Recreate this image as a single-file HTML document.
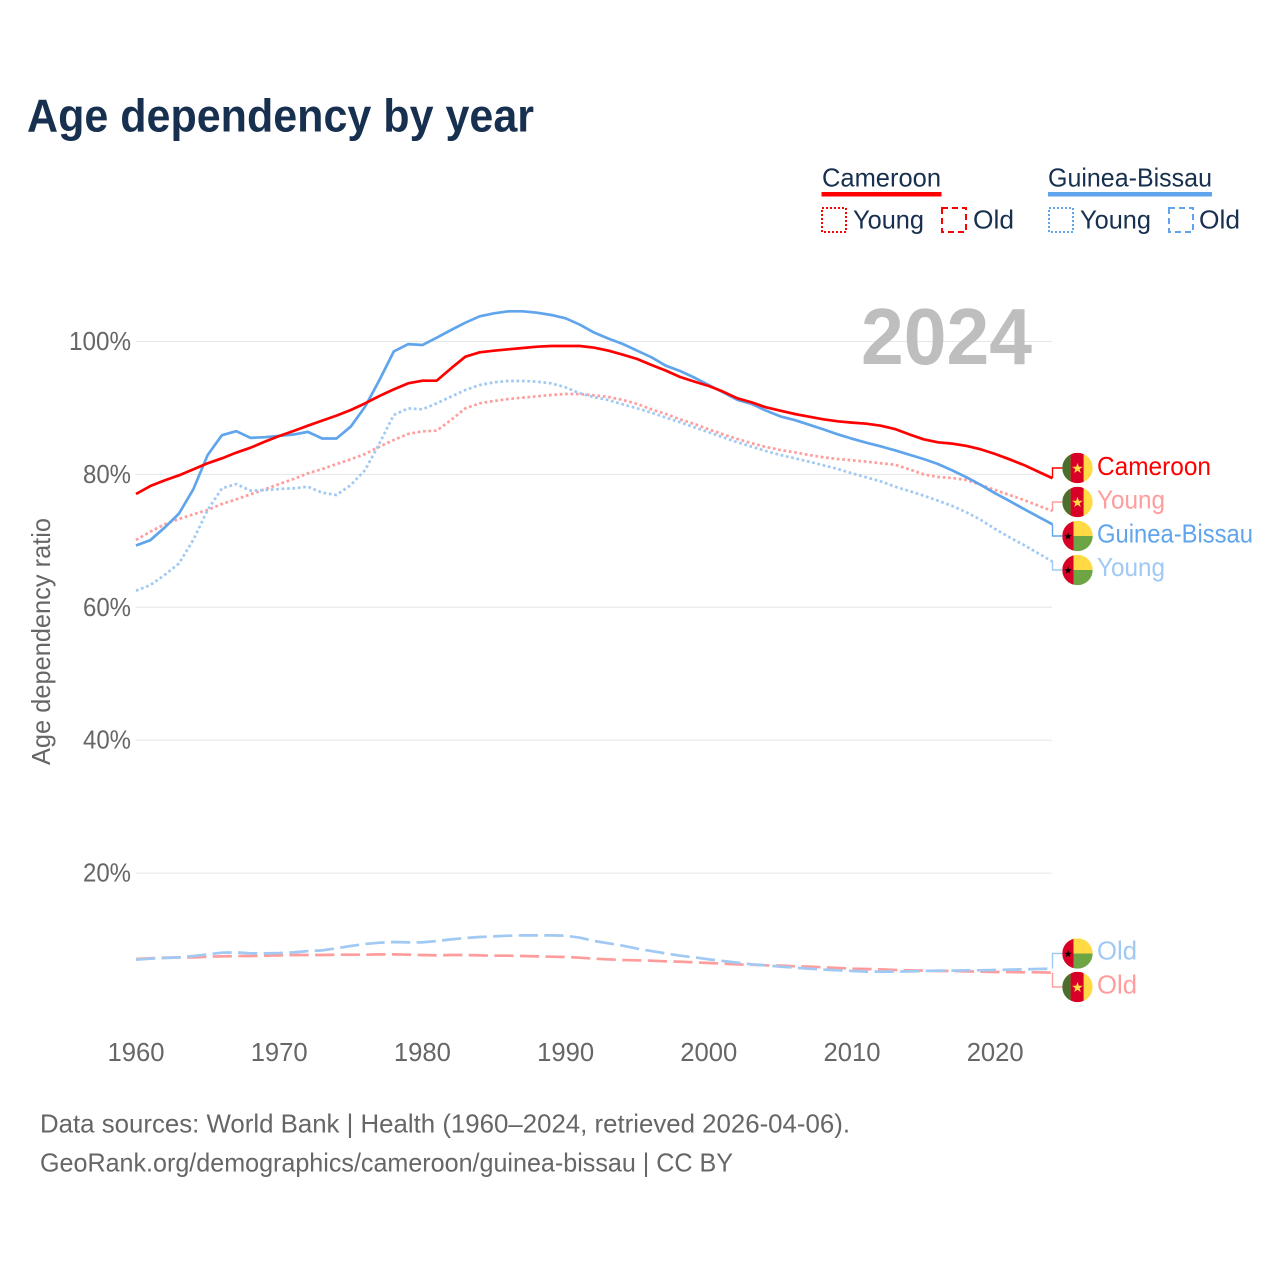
<!DOCTYPE html>
<html lang="en">
<head>
<meta charset="utf-8">
<title>Age dependency by year</title>
<style>
  html, body { margin: 0; padding: 0; background: #ffffff; }
  svg { display: block; font-family: "Liberation Sans", sans-serif; }
</style>
</head>
<body>
<svg id="chart" xmlns="http://www.w3.org/2000/svg" width="1280" height="1280" viewBox="0 0 1280 1280">
  <rect x="0" y="0" width="1280" height="1280" fill="#ffffff"/>
  <text x="27" y="131.5" font-size="46" font-weight="700" fill="#17304f" textLength="507" lengthAdjust="spacingAndGlyphs">Age dependency by year</text>

  <g>
    <text x="822" y="186.5" font-size="26" fill="#17304f" textLength="119" lengthAdjust="spacingAndGlyphs">Cameroon</text>
    <rect x="821.5" y="192" width="120" height="4.5" fill="#ff0000"/>
    <rect x="822" y="208" width="24" height="24" fill="none" stroke="#ff0000" stroke-width="2" stroke-dasharray="2 2"/>
    <text x="853" y="228.5" font-size="26" fill="#17304f" textLength="71" lengthAdjust="spacingAndGlyphs">Young</text>
    <rect x="942" y="208" width="24" height="24" fill="none" stroke="#ff0000" stroke-width="2" stroke-dasharray="6 4"/>
    <text x="973" y="228.5" font-size="26" fill="#17304f" textLength="41" lengthAdjust="spacingAndGlyphs">Old</text>

    <text x="1048" y="186.5" font-size="26" fill="#17304f" textLength="164" lengthAdjust="spacingAndGlyphs">Guinea-Bissau</text>
    <rect x="1048" y="192" width="164" height="4.5" fill="#60a5ec"/>
    <rect x="1049" y="208" width="24" height="24" fill="none" stroke="#60a5ec" stroke-width="2" stroke-dasharray="2 2"/>
    <text x="1080" y="228.5" font-size="26" fill="#17304f" textLength="71" lengthAdjust="spacingAndGlyphs">Young</text>
    <rect x="1169" y="208" width="24" height="24" fill="none" stroke="#60a5ec" stroke-width="2" stroke-dasharray="6 4"/>
    <text x="1199" y="228.5" font-size="26" fill="#17304f" textLength="41" lengthAdjust="spacingAndGlyphs">Old</text>
  </g>

  <g id="grid"></g>
  <g id="y-ticks"></g>
  <g id="x-ticks"></g>

  <text x="861" y="364" font-size="80" font-weight="700" fill="#bebebe" textLength="171" lengthAdjust="spacingAndGlyphs">2024</text>
  <text transform="translate(50 765) rotate(-90)" x="0" y="0" font-size="26" fill="#666666" textLength="247" lengthAdjust="spacingAndGlyphs">Age dependency ratio</text>

  <g id="series"></g>
  <g id="end-labels"></g>

  <text x="40" y="1132.5" font-size="26" fill="#666666" textLength="810" lengthAdjust="spacingAndGlyphs">Data sources: World Bank | Health (1960–2024, retrieved 2026-04-06).</text>
  <text x="40" y="1171.5" font-size="26" fill="#666666" textLength="693" lengthAdjust="spacingAndGlyphs">GeoRank.org/demographics/cameroon/guinea-bissau | CC BY</text>
</svg>

<script>
const years = [
  1960,1961,1962,1963,1964,1965,1966,1967,1968,1969,
  1970,1971,1972,1973,1974,1975,1976,1977,1978,1979,
  1980,1981,1982,1983,1984,1985,1986,1987,1988,1989,
  1990,1991,1992,1993,1994,1995,1996,1997,1998,1999,
  2000,2001,2002,2003,2004,2005,2006,2007,2008,2009,
  2010,2011,2012,2013,2014,2015,2016,2017,2018,2019,
  2020,2021,2022,2023,2024
];
const cameroonTotal = [
  77.05,78.25,79.1,79.86,80.76,81.67,82.42,83.27,84.02,84.93,
  85.78,86.53,87.33,88.09,88.84,89.69,90.69,91.8,92.8,93.7,
  94.1,94.11,95.96,97.72,98.37,98.62,98.82,99.02,99.22,99.32,
  99.32,99.32,99.07,98.62,98.02,97.37,96.46,95.61,94.66,93.96,
  93.3,92.45,91.45,90.84,90.09,89.59,89.09,88.69,88.29,87.99,
  87.79,87.63,87.33,86.83,86.03,85.28,84.83,84.63,84.28,83.77,
  83.07,82.27,81.42,80.42,79.42
];
const cameroonYoung = [
  70.13,71.38,72.49,73.29,73.99,74.64,75.55,76.25,77.0,77.75,
  78.55,79.31,80.16,80.81,81.56,82.27,83.07,84.17,85.18,86.08,
  86.48,86.58,88.19,89.94,90.7,91.05,91.35,91.55,91.75,91.95,
  92.1,92.1,91.9,91.65,91.2,90.6,89.79,89.09,88.29,87.58,
  86.78,86.03,85.33,84.68,84.12,83.67,83.32,82.92,82.57,82.32,
  82.12,81.92,81.67,81.47,80.76,80.01,79.61,79.46,79.16,78.41,
  77.65,76.9,76.15,75.3,74.49
];
const cameroonOld = [
  7.07,7.17,7.27,7.32,7.32,7.42,7.47,7.52,7.52,7.57,
  7.62,7.67,7.67,7.67,7.72,7.72,7.72,7.77,7.77,7.72,
  7.67,7.62,7.67,7.67,7.62,7.57,7.57,7.52,7.47,7.42,
  7.37,7.27,7.12,7.02,6.92,6.87,6.82,6.72,6.67,6.57,
  6.47,6.37,6.27,6.22,6.12,6.07,5.97,5.92,5.82,5.72,
  5.62,5.57,5.52,5.42,5.37,5.32,5.27,5.27,5.21,5.17,
  5.12,5.12,5.07,5.07,5.02
];
const guineaBissauTotal = [
  69.3,70.1,72.0,74.1,77.75,82.9,85.9,86.5,85.5,85.6,
  85.8,86.0,86.4,85.4,85.4,87.2,90.2,94.2,98.5,99.6,
  99.47,100.58,101.73,102.83,103.79,104.24,104.54,104.54,104.34,103.99,
  103.49,102.53,101.33,100.43,99.62,98.62,97.62,96.36,95.56,94.56,
  93.45,92.35,91.2,90.6,89.59,88.73,88.18,87.48,86.78,86.03,
  85.38,84.78,84.22,83.62,82.97,82.32,81.57,80.61,79.56,78.41,
  77.16,76.0,74.8,73.64,72.49
];
const guineaBissauYoung = [
  62.5,63.35,64.86,66.6,70.13,74.64,77.9,78.55,77.55,77.65,
  77.8,77.9,78.15,77.25,76.9,78.4,80.66,84.67,88.94,89.94,
  89.79,90.7,91.7,92.7,93.45,93.86,94.06,94.06,93.96,93.7,
  93.1,92.2,91.6,91.2,90.54,89.94,89.29,88.54,87.84,87.08,
  86.33,85.58,84.83,84.17,83.52,82.92,82.42,81.92,81.37,80.82,
  80.16,79.56,78.96,78.15,77.5,76.8,76.05,75.25,74.29,73.14,
  71.78,70.53,69.38,68.13,66.87
];
const guineaBissauOld = [
  6.97,7.12,7.22,7.32,7.52,7.77,8.02,8.07,7.92,7.92,
  7.97,8.07,8.27,8.37,8.68,9.03,9.33,9.53,9.63,9.58,
  9.58,9.78,10.03,10.23,10.38,10.48,10.58,10.63,10.63,10.63,
  10.58,10.28,9.78,9.43,9.08,8.63,8.27,7.92,7.57,7.32,
  7.02,6.77,6.52,6.27,6.12,5.92,5.77,5.62,5.47,5.37,
  5.27,5.17,5.17,5.17,5.21,5.27,5.32,5.32,5.37,5.37,
  5.42,5.47,5.52,5.57,5.62
];
const yTickValues = [20, 40, 60, 80, 100];
const yTickLabels = ['20%', '40%', '60%', '80%', '100%'];
const xTickValues = [1960, 1970, 1980, 1990, 2000, 2010, 2020];
const xTickLabels = ['1960', '1970', '1980', '1990', '2000', '2010', '2020'];

const NS = 'http://www.w3.org/2000/svg';
const xScale = function (year) { return 136 + (year - 1960) * 14.32; };
const yScale = function (v) { return 1006 - v * 6.645; };

function make(tag, attrs, parent) {
  const el = document.createElementNS(NS, tag);
  Object.keys(attrs).forEach(function (k) { el.setAttribute(k, attrs[k]); });
  parent.appendChild(el);
  return el;
}

const gridGroup = document.getElementById('grid');
const yGroup = document.getElementById('y-ticks');
yTickValues.forEach(function (v, i) {
  const line = make('line', { x1: 135.5, x2: 1052, y1: yScale(v), y2: yScale(v), stroke: '#e6e6e6', 'stroke-width': 1 }, gridGroup);
  
  
  const label = make('text', { x: 131, y: yScale(v) + 8.5, 'font-size': 26, fill: '#666666', 'text-anchor': 'end' }, yGroup);
  
  
  label.setAttribute('textLength', yTickLabels[i].length === 4 ? 62 : 48);
  label.setAttribute('lengthAdjust', 'spacingAndGlyphs');
  label.textContent = yTickLabels[i];
});

const xGroup = document.getElementById('x-ticks');
xTickValues.forEach(function (year, i) {
  const label = make('text', { x: xScale(year), y: 1061, 'font-size': 26, fill: '#666666', 'text-anchor': 'middle' }, xGroup);
  
  
  label.setAttribute('textLength', 57);
  label.setAttribute('lengthAdjust', 'spacingAndGlyphs');
  label.textContent = xTickLabels[i];
});

const RED = '#ff0000';
const BLUE = '#60a5ec';
const RED_LIGHT = '#ff9d9d';
const BLUE_LIGHT = '#a0c9f3';
const DOTTED = '2.7 2.7';
const DASHED = '19.2 6.4';

const seriesGroup = document.getElementById('series');
function drawSeries(name, values, color, width, dash) {
  const points = values.map(function (v, i) { return xScale(years[i]).toFixed(2) + ',' + yScale(v).toFixed(2); });
  const attrs = { points: points.join(' '), fill: 'none', stroke: color, 'stroke-width': width, 'stroke-linejoin': 'round' };
  if (dash) { attrs['stroke-dasharray'] = dash; }
  const line = make('polyline', attrs, seriesGroup);
  
  
}
drawSeries('line-cameroon-old', cameroonOld, RED_LIGHT, 2.7, DASHED);
drawSeries('line-guinea-bissau-old', guineaBissauOld, BLUE_LIGHT, 2.7, DASHED);
drawSeries('line-cameroon-young', cameroonYoung, RED_LIGHT, 2.7, DOTTED);
drawSeries('line-guinea-bissau-young', guineaBissauYoung, BLUE_LIGHT, 2.7, DOTTED);
drawSeries('line-guinea-bissau-total', guineaBissauTotal, BLUE, 2.7, null);
drawSeries('line-cameroon-total', cameroonTotal, RED, 2.7, null);

function starPoints(cx, cy, r) {
  const pts = [];
  for (let i = 0; i < 10; i++) {
    const rad = i % 2 === 0 ? r : r * 0.4;
    const a = -Math.PI / 2 + i * Math.PI / 5;
    pts.push((cx + rad * Math.cos(a)).toFixed(2) + ',' + (cy + rad * Math.sin(a)).toFixed(2));
  }
  return pts.join(' ');
}

const defs = make('defs', {}, document.getElementById('chart'));
let clipCount = 0;
function drawFlag(parent, kind, cy, name) {
  const cx = 1077.5;
  const r = 15.2;
  const clipId = 'flag-clip-' + (clipCount++);
  const clip = make('clipPath', { id: clipId }, defs);
  make('circle', { cx: cx, cy: cy, r: r }, clip);
  const g = make('g', { 'clip-path': 'url(#' + clipId + ')' }, parent);
  
  
  const left = cx - r;
  const top = cy - r;
  const size = 2 * r;
  if (kind === 'cameroon') {
    make('rect', { x: left, y: top, width: size, height: size, fill: '#ffda44' }, g);
    make('rect', { x: left, y: top, width: 8.3, height: size, fill: '#496e2d' }, g);
    make('rect', { x: left + 8.3, y: top, width: 13, height: size, fill: '#d80027' }, g);
    make('polygon', { points: starPoints(cx, cy + 0.5, 5.6), fill: '#ffda44' }, g);
  } else {
    make('rect', { x: left, y: top, width: size, height: size / 2, fill: '#ffda44' }, g);
    make('rect', { x: left, y: cy, width: size, height: r, fill: '#6da544' }, g);
    make('rect', { x: left, y: top, width: 11.2, height: size, fill: '#d80027' }, g);
    make('polygon', { points: starPoints(left + 5.8, cy + 0.5, 3.9), fill: '#000000' }, g);
  }
}

const labelGroup = document.getElementById('end-labels');
function drawEndLabel(key, text, width, kind, values, flagY, baseY, color, connectorColor) {
  const lastY = yScale(values[values.length - 1]);
  const connector = make('polyline', {
    points: '1052.5,' + lastY.toFixed(2) + ' 1052.5,' + flagY + ' 1063,' + flagY,
    fill: 'none', stroke: connectorColor, 'stroke-width': 1.4
  }, labelGroup);
  
  
  drawFlag(labelGroup, kind, flagY, key + '-flag');
  const label = make('text', { x: 1097, y: baseY, 'font-size': 26, fill: color, textLength: width, lengthAdjust: 'spacingAndGlyphs' }, labelGroup);
  
  
  label.textContent = text;
}
drawEndLabel('end-cameroon-total', 'Cameroon', 114, 'cameroon', cameroonTotal, 468, 475, RED, RED);
drawEndLabel('end-cameroon-young', 'Young', 68, 'cameroon', cameroonYoung, 502, 508.5, RED_LIGHT, RED_LIGHT);
drawEndLabel('end-guinea-bissau-total', 'Guinea-Bissau', 156, 'guinea-bissau', guineaBissauTotal, 536, 542.5, BLUE, BLUE);
drawEndLabel('end-guinea-bissau-young', 'Young', 68, 'guinea-bissau', guineaBissauYoung, 570, 576, BLUE_LIGHT, BLUE_LIGHT);
drawEndLabel('end-guinea-bissau-old', 'Old', 40, 'guinea-bissau', guineaBissauOld, 953.5, 959.5, BLUE_LIGHT, BLUE_LIGHT);
drawEndLabel('end-cameroon-old', 'Old', 40, 'cameroon', cameroonOld, 987, 993.5, RED_LIGHT, RED_LIGHT);
</script>
</body>
</html>
